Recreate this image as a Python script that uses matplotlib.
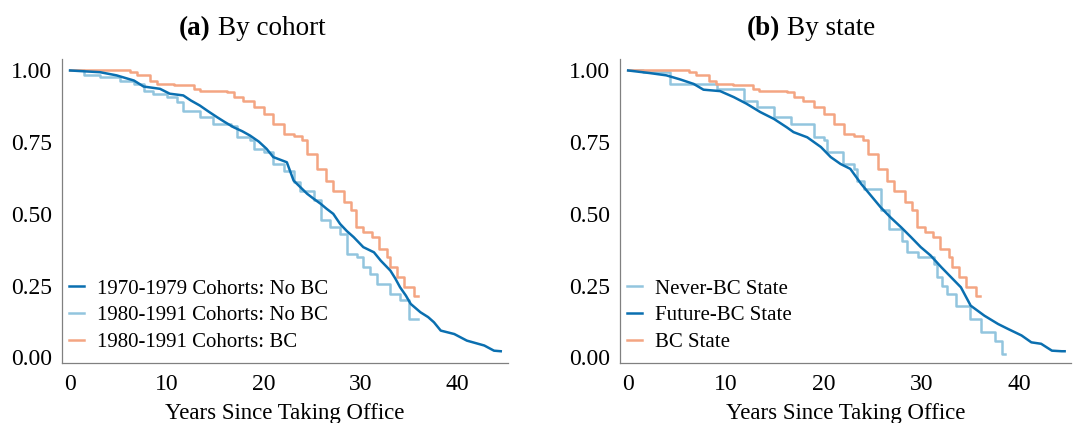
import matplotlib
matplotlib.use("Agg")
import matplotlib.pyplot as plt

plt.rcParams['font.family'] = ['Liberation Serif', 'DejaVu Serif']

DARK = '#0a6fb0'
LIGHT = '#92c5de'
ORANGE = '#f4a582'

# (a) survival by cohort
a_7079_t = [0, 1.5, 3.1, 4.8, 6.6, 7.6, 9.3, 10.3, 11.7, 12.5, 13.4, 14.3, 15.2, 16.0, 16.9,
            17.8, 18.6, 19.5, 20.3, 21.0, 22.4, 23.1, 23.8, 24.5, 25.2, 25.9, 26.5, 27.2,
            27.9, 28.6, 29.3, 30.3, 31.4, 32.1, 33.1, 33.6, 34.1, 34.7, 35.2, 36.2, 37.0,
            37.6, 38.3, 39.7, 41.0, 42.8, 43.8, 44.5]
a_7079_s = [1.0, 0.997, 0.994, 0.983, 0.965, 0.944, 0.936, 0.919, 0.913, 0.895, 0.878, 0.857,
            0.837, 0.820, 0.802, 0.788, 0.773, 0.752, 0.727, 0.698, 0.680, 0.616, 0.593, 0.570,
            0.552, 0.535, 0.518, 0.500, 0.465, 0.440, 0.419, 0.384, 0.366, 0.337, 0.302, 0.275,
            0.244, 0.215, 0.186, 0.157, 0.140, 0.122, 0.093, 0.081, 0.058, 0.041, 0.023, 0.021]

a_8091_t = [0, 1.4, 3.1, 5.2, 6.6, 7.6, 8.6, 10.0, 11.0, 11.7, 13.4, 14.8, 16.6, 17.2, 18.6,
            19.0, 20.0, 21.0, 22.1, 23.1, 23.8, 25.2, 25.9, 26.9, 27.9, 28.6, 29.7, 30.3,
            31.0, 31.7, 33.1, 34.1, 35.0, 36.0]
a_8091_s = [1.0, 0.983, 0.977, 0.965, 0.953, 0.930, 0.919, 0.907, 0.890, 0.860, 0.837, 0.814,
            0.808, 0.767, 0.756, 0.727, 0.715, 0.674, 0.651, 0.610, 0.581, 0.547, 0.477, 0.453,
            0.430, 0.360, 0.349, 0.314, 0.291, 0.256, 0.221, 0.198, 0.134, 0.134]

bc_t = [0, 6.2, 6.9, 8.3, 9.0, 10.7, 12.8, 13.4, 16.2, 16.9, 17.9, 19.0, 20.0, 21.0, 22.1,
        23.1, 24.0, 24.5, 25.5, 26.4, 27.2, 28.3, 29.0, 29.5, 30.3, 31.2, 31.9, 32.8, 33.1,
        33.8, 34.5, 35.5, 36.0]
bc_s = [1.0, 0.994, 0.983, 0.965, 0.953, 0.948, 0.936, 0.930, 0.924, 0.907, 0.895, 0.872,
        0.849, 0.814, 0.779, 0.773, 0.756, 0.709, 0.657, 0.616, 0.581, 0.541, 0.512, 0.453,
        0.436, 0.419, 0.378, 0.349, 0.314, 0.279, 0.244, 0.215, 0.215]

# (b) survival by state
never_t = [0, 1.5, 4.3, 9.1, 11.8, 13.2, 14.9, 16.6, 19.0, 20.0, 20.3, 22.0, 23.1, 23.4, 24.1,
           25.8, 26.7, 28.0, 28.5, 29.6, 31.3, 31.6, 32.1, 32.6, 33.5, 34.9, 36.1, 37.5,
           38.2, 38.5]
never_s = [1.0, 0.994, 0.953, 0.936, 0.895, 0.872, 0.837, 0.814, 0.767, 0.756, 0.715, 0.674,
           0.657, 0.616, 0.587, 0.512, 0.448, 0.407, 0.366, 0.349, 0.326, 0.279, 0.250, 0.221,
           0.180, 0.134, 0.087, 0.058, 0.012, 0.012]

future_t = [0, 2.2, 3.9, 5.3, 6.7, 7.7, 9.4, 10.8, 12.1, 13.5, 14.9, 16.2, 16.9, 18.3, 19.7,
            20.7, 21.7, 22.7, 23.8, 24.8, 25.8, 26.8, 27.9, 28.9, 29.9, 30.9, 32.0, 33.0,
            34.0, 35.0, 36.4, 37.8, 38.8, 40.2, 41.2, 42.2, 43.3, 44.3, 44.6]
future_s = [1.0, 0.991, 0.983, 0.969, 0.953, 0.933, 0.928, 0.907, 0.884, 0.855, 0.831, 0.802,
            0.785, 0.767, 0.733, 0.698, 0.674, 0.657, 0.605, 0.564, 0.523, 0.488, 0.453, 0.419,
            0.384, 0.355, 0.314, 0.279, 0.244, 0.180, 0.145, 0.116, 0.099, 0.076, 0.052, 0.047,
            0.023, 0.021, 0.021]

fig = plt.figure(figsize=(10.73, 4.23), dpi=100)
W, H = 1073.0, 423.0
ax1 = fig.add_axes([62 / W, 1 - 363 / H, 446 / W, 304 / H])
ax2 = fig.add_axes([620 / W, 1 - 363 / H, 451 / W, 304 / H])

ax1.plot(a_7079_t, a_7079_s, color=DARK, lw=1.8, label='1970-1979 Cohorts: No BC', zorder=3)
ax1.step(a_8091_t, a_8091_s, where='post', color=LIGHT, lw=1.8, label='1980-1991 Cohorts: No BC')
ax1.step(bc_t, bc_s, where='post', color=ORANGE, lw=1.8, label='1980-1991 Cohorts: BC')

ax2.step(never_t, never_s, where='post', color=LIGHT, lw=1.8, label='Never-BC State')
ax2.plot(future_t, future_s, color=DARK, lw=1.8, label='Future-BC State', zorder=3)
ax2.step(bc_t, bc_s, where='post', color=ORANGE, lw=1.8, label='BC State')

for ax in (ax1, ax2):
    ax.set_xlim(-0.83, 45.25)
    ax.set_ylim(-0.02, 1.04)
    ax.set_xticks([0, 10, 20, 30, 40])
    ax.set_yticks([0, 0.25, 0.5, 0.75, 1.0])
    ax.set_yticklabels(['0.00', '0.25', '0.50', '0.75', '1.00'])
    ax.tick_params(axis='both', length=0, labelsize=17)
    ax.tick_params(axis='x', pad=8)
    ax.tick_params(axis='y', pad=7)
    for side in ('top', 'right'):
        ax.spines[side].set_visible(False)
    for side in ('left', 'bottom'):
        ax.spines[side].set_color('#808080')
        ax.spines[side].set_linewidth(0.9)
    ax.set_xlabel('Years Since Taking Office', fontsize=16.5, labelpad=6)
    ax.legend(loc='lower left', bbox_to_anchor=(0.015, 0.035), frameon=False, fontsize=15,
              handlelength=0.75, handletextpad=0.6, labelspacing=0.35, borderpad=0,
              borderaxespad=0)

# panel captions
fig.text(211 / W, 1 - 35 / H, '(a)', fontsize=19.5, fontweight='bold', ha='right', va='baseline')
fig.text(218 / W, 1 - 35 / H, 'By cohort', fontsize=19.5, ha='left', va='baseline')
fig.text(780 / W, 1 - 35 / H, '(b)', fontsize=19.5, fontweight='bold', ha='right', va='baseline')
fig.text(787 / W, 1 - 35 / H, 'By state', fontsize=19.5, ha='left', va='baseline')

fig.savefig('out.png', dpi=100)
